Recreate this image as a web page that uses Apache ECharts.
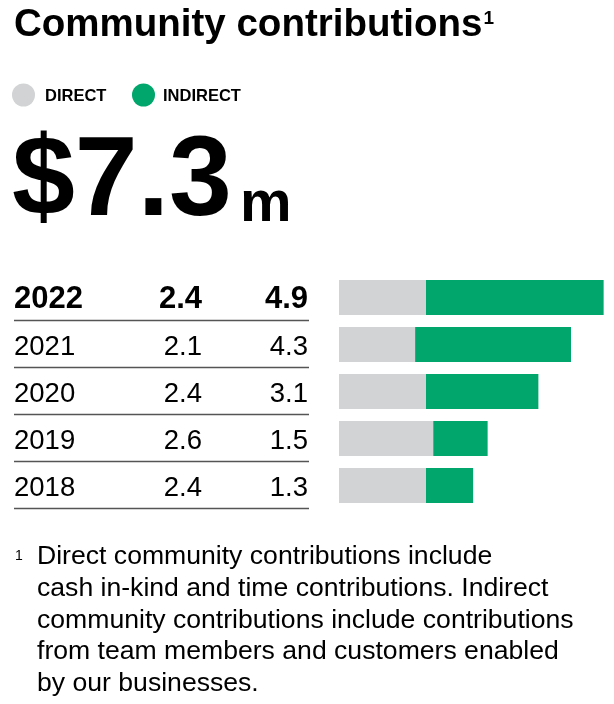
<!DOCTYPE html>
<html>
<head>
<meta charset="utf-8">
<script src="https://cdn.jsdelivr.net/npm/echarts@6/dist/echarts.min.js"></script>
<style>
html,body{margin:0;padding:0;background:#fff;}
#c{width:614px;height:704px;}
</style>
</head>
<body>
<div id="c"></div>
<script>
const years = ['2022', '2021', '2020', '2019', '2018'];
const direct = [2.4, 2.1, 2.4, 2.6, 2.4];
const indirect = [4.9, 4.3, 3.1, 1.5, 1.3];
const seriesNames = ['DIRECT', 'INDIRECT'];
const headline = '$7.3';
const headlineUnit = 'm';
const titleText = 'Community contributions';
const footnoteLines = [
  'Direct community contributions include',
  'cash in-kind and time contributions. Indirect',
  'community contributions include contributions',
  'from team members and customers enabled',
  'by our businesses.'
];

const FONT = '"Liberation Sans", Arial, Helvetica, sans-serif';
const GREY = '#d1d3d4';
const GREEN = '#00a66b';
const GRID_TOP = 274;
const ROW_H = 47;
const X_MAX = 7.4;
const UNIT_PX = 36.25;

const chart = echarts.init(document.getElementById('c'), null, {renderer: 'canvas'});

function rowLabel(values, fmt) {
  return function (v, i) {
    const t = fmt(values[i]);
    return i === 0 ? '{b|' + t + '}' : '{r|' + t + '}';
  };
}
const richStyles = {
  b: {fontFamily: FONT, fontWeight: 'bold', fontSize: 31, color: '#000', padding: [4, 0, 0, 0]},
  r: {fontFamily: FONT, fontWeight: 'normal', fontSize: 27.5, color: '#000', padding: [5, 0, 0, 0]}
};
function yAx(align, margin, values, fmt) {
  return {
    type: 'category', data: years, inverse: true, position: 'left',
    axisLine: {show: false}, axisTick: {show: false}, splitLine: {show: false},
    axisLabel: {align: align, margin: margin, formatter: rowLabel(values, fmt), rich: richStyles}
  };
}

const graphics = [];
graphics.push({type: 'text', x: 14, y: 25, style: {text: titleText, font: 'bold 38.5px ' + FONT, fill: '#000', verticalAlign: 'middle'}});
graphics.push({type: 'text', x: 483.5, y: 19, style: {text: '1', font: 'bold 19px ' + FONT, fill: '#000', verticalAlign: 'middle'}});
// legend
const legendX = [[23.5, 45], [143.5, 163]];
[GREY, GREEN].forEach(function (col, i) {
  graphics.push({type: 'circle', shape: {cx: legendX[i][0], cy: 95, r: 11.5}, style: {fill: col}});
  graphics.push({type: 'text', x: legendX[i][1], y: 96, style: {text: seriesNames[i], font: 'bold 16.5px ' + FONT, fill: '#000', verticalAlign: 'middle'}});
});
// headline
graphics.push({type: 'text', x: 12, y: 184, style: {text: headline, font: 'bold 113px ' + FONT, fill: '#000', verticalAlign: 'middle'}});
graphics.push({type: 'text', x: 240, y: 205, style: {text: headlineUnit, font: 'bold 58px ' + FONT, fill: '#000', verticalAlign: 'middle'}});
// separators
for (let i = 0; i < years.length; i++) {
  const y = GRID_TOP + ROW_H * (i + 1) - 0.5;
  graphics.push({type: 'line', shape: {x1: 14, y1: y, x2: 309, y2: y}, style: {stroke: '#555', lineWidth: 1.5}});
}
// footnote
graphics.push({type: 'text', x: 15, y: 556, style: {text: '1', font: '14px ' + FONT, fill: '#000', verticalAlign: 'middle'}});
graphics.push({type: 'text', x: 37, y: 541, style: {text: footnoteLines.join('\n'), font: '26.6px ' + FONT, lineHeight: 31.75, fill: '#000', verticalAlign: 'top'}});

chart.setOption({
  animation: false,
  backgroundColor: '#fff',
  grid: {left: 339, top: GRID_TOP, width: X_MAX * UNIT_PX, height: ROW_H * years.length, containLabel: false},
  xAxis: {type: 'value', min: 0, max: X_MAX, show: false},
  yAxis: [
    yAx('left', 325, years, function (v) { return v; }),
    yAx('right', 137, direct, function (v) { return v.toFixed(1); }),
    yAx('right', 31, indirect, function (v) { return v.toFixed(1); })
  ],
  series: [
    {name: seriesNames[0], type: 'bar', stack: 'total', yAxisIndex: 0, barWidth: 35, data: direct, itemStyle: {color: GREY}, silent: true},
    {name: seriesNames[1], type: 'bar', stack: 'total', yAxisIndex: 0, barWidth: 35, data: indirect, itemStyle: {color: GREEN}, silent: true}
  ],
  graphic: graphics
});
</script>
</body>
</html>
